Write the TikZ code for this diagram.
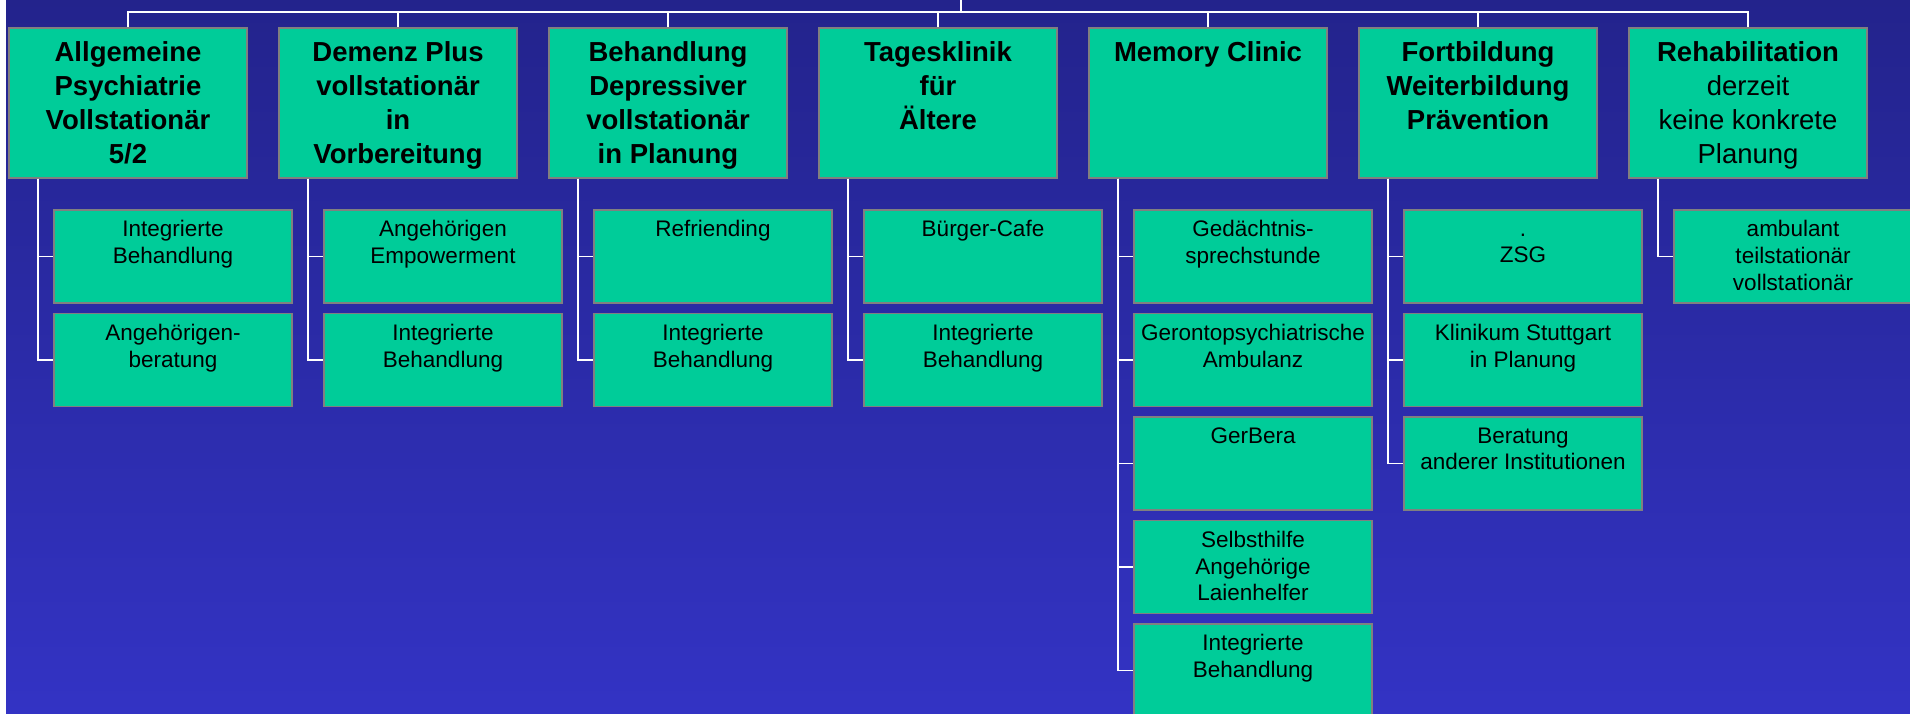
\documentclass[tikz,border=0pt]{standalone}
\usepackage{fontspec}
\setmainfont{Liberation Sans}
\definecolor{bgtop}{RGB}{35,35,140}
\definecolor{bgbot}{RGB}{51,51,196}
\definecolor{boxfill}{RGB}{0,204,153}
\definecolor{boxline}{RGB}{128,128,128}

\begin{document}
\begin{tikzpicture}[
    x=1pt, y=-1pt,
    box/.style={rectangle, draw=boxline, line width=1.2pt, fill=boxfill, minimum width=238pt},
    headbox/.style={box, minimum height=150pt},
    subbox/.style={box, minimum height=93pt},
    headtext/.style={anchor=north, yshift=-14pt, inner sep=0pt, align=center, font=\fontsize{27.5}{34}\selectfont\bfseries},
    subtext/.style={anchor=north, yshift=-11pt, inner sep=0pt, align=center, font=\fontsize{22.5}{26.7}\selectfont},
    link/.style={draw=white, line width=1.2pt}
  ]
    % Background
    \clip (0,0) rectangle (1910,713);
    \fill[white] (0,0) rectangle (1910,713);
    \shade[top color=bgtop, bottom color=bgbot] (6,0) rectangle (1910,713);

    % Top row
    \node[headbox, label={[headtext]north:Allgemeine\\Psychiatrie\\Vollstationär\\5/2}] (allg) at (128,103) {};
    \node[headbox, label={[headtext]north:Demenz Plus\\vollstationär\\in\\Vorbereitung}] (demenz) at (398,103) {};
    \node[headbox, label={[headtext]north:Behandlung\\Depressiver\\vollstationär\\in Planung}] (depr) at (668,103) {};
    \node[headbox, label={[headtext]north:Tagesklinik\\für\\Ältere}] (tages) at (938,103) {};
    \node[headbox, label={[headtext]north:Memory Clinic}] (memory) at (1208,103) {};
    \node[headbox, label={[headtext]north:Fortbildung\\Weiterbildung\\Prävention}] (fortb) at (1478,103) {};
    \node[headbox, label={[headtext]north:Rehabilitation\\\mdseries derzeit\\\mdseries keine konkrete\\\mdseries Planung}] (reha) at (1748,103) {};

    % Sub boxes
    \node[subbox, label={[subtext]north:Integrierte\\Behandlung}] (allgA) at (173,256.5) {};
    \node[subbox, label={[subtext]north:Angehörigen-\\beratung}] (allgB) at (173,360) {};

    \node[subbox, label={[subtext]north:Angehörigen\\Empowerment}] (demenzA) at (443,256.5) {};
    \node[subbox, label={[subtext]north:Integrierte\\Behandlung}] (demenzB) at (443,360) {};

    \node[subbox, label={[subtext]north:Refriending}] (deprA) at (713,256.5) {};
    \node[subbox, label={[subtext]north:Integrierte\\Behandlung}] (deprB) at (713,360) {};

    \node[subbox, label={[subtext]north:Bürger-Cafe}] (tagesA) at (983,256.5) {};
    \node[subbox, label={[subtext]north:Integrierte\\Behandlung}] (tagesB) at (983,360) {};

    \node[subbox, label={[subtext]north:Gedächtnis-\\sprechstunde}] (memoryA) at (1253,256.5) {};
    \node[subbox, label={[subtext]north:Gerontopsychiatrische\\Ambulanz}] (memoryB) at (1253,360) {};
    \node[subbox, label={[subtext]north:GerBera}] (memoryC) at (1253,463.5) {};
    \node[subbox, label={[subtext]north:Selbsthilfe\\Angehörige\\Laienhelfer}] (memoryD) at (1253,567) {};
    \node[subbox, label={[subtext]north:Integrierte\\Behandlung}] (memoryE) at (1253,670.5) {};

    \node[subbox, label={[subtext]north:\vphantom{I}.\\ZSG}] (fortbA) at (1523,256.5) {};
    \node[subbox, label={[subtext]north:Klinikum Stuttgart\\in Planung}] (fortbB) at (1523,360) {};
    \node[subbox, label={[subtext]north:Beratung\\anderer Institutionen}] (fortbC) at (1523,463.5) {};

    \node[subbox, label={[subtext]north:ambulant\\teilstationär\\vollstationär}] (rehaA) at (1793,256.5) {};

    % Tree lines from the top
    \coordinate (root) at (961,0);
    \coordinate (bus) at (961,12);
    \draw[link] (root) -- (bus);
    \foreach \p in {allg,demenz,depr,tages,memory,fortb,reha}
      \draw[link] (bus) -| (\p.north);

    % Lines to the sub boxes
    \foreach \p/\s in {allg/allgA, allg/allgB, demenz/demenzA, demenz/demenzB,
                       depr/deprA, depr/deprB, tages/tagesA, tages/tagesB,
                       memory/memoryA, memory/memoryB, memory/memoryC, memory/memoryD, memory/memoryE,
                       fortb/fortbA, fortb/fortbB, fortb/fortbC, reha/rehaA}
      \draw[link] ([xshift=-90pt]\p.south) |- (\s.west);
  \end{tikzpicture}
\end{document}
